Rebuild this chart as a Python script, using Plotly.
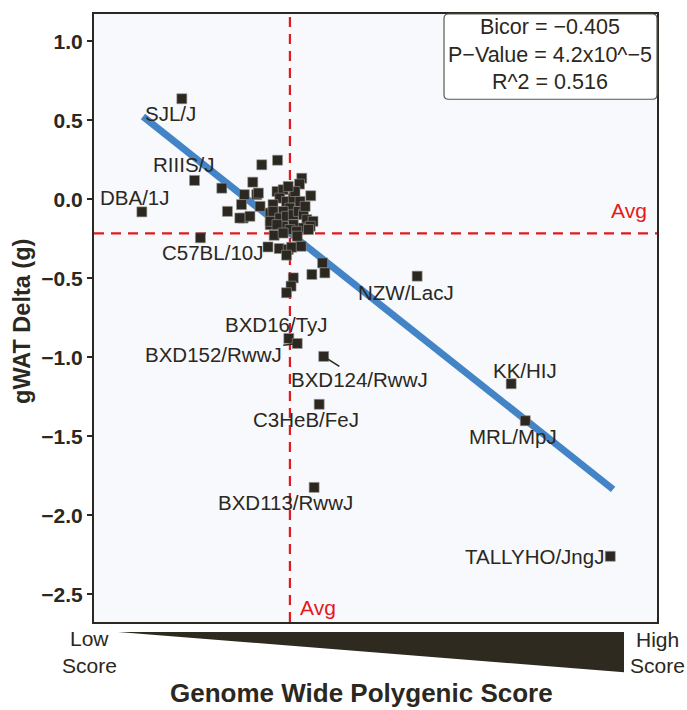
import plotly.graph_objects as go

# ---------------- data ----------------
labeled_names = ["SJL/J", "RIIIS/J", "DBA/1J", "C57BL/10J", "NZW/LacJ", "BXD16/TyJ",
                 "BXD152/RwwJ", "BXD124/RwwJ", "C3HeB/FeJ", "BXD113/RwwJ", "KK/HIJ",
                 "MRL/MpJ", "TALLYHO/JngJ"]
labeled_score = [15.6, 17.85, 8.5, 18.9, 57.4, 34.6, 36.1, 40.8, 40.0, 39.1, 74.1, 76.6, 91.7]
labeled_gwat = [0.637, 0.12, -0.079, -0.243, -0.486, -0.88, -0.912, -0.994, -1.297, -1.823,
                -1.167, -1.401, -2.259]

other_score = [22.7, 23.7, 26.7, 28.2, 29.8, 32.6, 26.2, 26.5, 27.7, 28.9, 29.5, 31.3, 32.0,
               30.9, 31.3, 36.9, 36.5, 38.5, 29.2, 25.9,
               32.5, 33.6, 33.0, 31.8, 34.2, 35.4, 34.8, 33.6, 31.8, 31.3, 33.0, 34.2, 35.4,
               36.3, 37.2, 37.8, 38.9, 38.4, 36.6, 35.4, 33.6, 32.5, 34.8, 33.6, 36.0, 32.9,
               34.5, 35.1, 34.2, 36.8, 36.1, 38.1, 40.6, 41.0, 38.7, 35.4, 35.0, 34.2,
               35.7, 36.6, 37.5, 34.5]
other_gwat = [0.071, -0.076, 0.030, 0.109, 0.219, 0.248, -0.033, -0.118, -0.107, 0.030, -0.044,
              -0.086, -0.227, -0.301, -0.160, 0.134, 0.097, 0.023, 0.040, -0.118,
              0.050, 0.061, 0.008, -0.033, -0.013, 0.008, -0.055, -0.076, -0.076, -0.139,
              -0.118, -0.107, -0.097, -0.076, -0.097, -0.128, -0.139, -0.170, -0.181, -0.160,
              -0.170, -0.160, -0.191, -0.213, -0.202, -0.311, -0.317, -0.303, -0.353, -0.297,
              -0.233, -0.191, -0.402, -0.465, -0.475, -0.497, -0.549, -0.591,
              0.050, -0.013, -0.044, 0.082]

fit_slope = -0.02826
fit_intercept = 0.770
fit_score_range = [8.7, 92.2]

avg_score = 34.8
avg_gwat = -0.215

stats_lines = ["Bicor = \u22120.405", "P\u2212Value = 4.2x10^\u22125", "R^2 = 0.516"]

y_ticks = [1.0, 0.5, 0.0, -0.5, -1.0, -1.5, -2.0, -2.5]
y_ticktext = [("\u2212" if v < 0 else "") + f"{abs(v):.1f}" for v in y_ticks]

# ---------------- styles / positions ----------------
INK = "#2b2721"
RED = "#e3191c"
BLUE = "#4384c7"
FONT = "Liberation Sans, Arial, sans-serif"
LBL = 20.5

# label offsets in pixels: (xshift, yshift) or arrow (ax, ay)
label_pos = {
    "SJL/J": (-11, -15), "RIIIS/J": (-11, 16), "DBA/1J": (-7, 14), "C57BL/10J": (12, -15),
    "NZW/LacJ": (-11, -16), "BXD16/TyJ": (-12, 14), "C3HeB/FeJ": (-13, -15),
    "BXD113/RwwJ": (-29, -15), "KK/HIJ": (14, 13), "MRL/MpJ": (-12, -16),
    "TALLYHO/JngJ": (-76, 0),
}
arrow_pos = {"BXD152/RwwJ": (-84, 11), "BXD124/RwwJ": (36, 23)}

all_x = labeled_score + other_score
all_y = labeled_gwat + other_gwat

fig = go.Figure()

fit_y = [fit_intercept + fit_slope * s for s in fit_score_range]
fig.add_trace(go.Scatter(x=fit_score_range, y=fit_y, mode="lines",
                         line=dict(color=BLUE, width=7), hoverinfo="skip", showlegend=False))
fig.add_trace(go.Scatter(x=all_x, y=all_y, mode="markers",
                         marker=dict(symbol="square", size=10, color=INK,
                                     line=dict(color="#9a958e", width=0.6)),
                         showlegend=False))

# average lines
fig.add_shape(type="line", xref="x", yref="paper", x0=avg_score, x1=avg_score, y0=0, y1=1,
              line=dict(color=RED, width=2.2, dash="10px,7px"), layer="below")
fig.add_shape(type="line", xref="paper", yref="y", x0=0, x1=1, y0=avg_gwat, y1=avg_gwat,
              line=dict(color=RED, width=2.2, dash="10px,7px"), layer="below")

C = dict(xanchor="center", yanchor="middle")
ann = []
ann.append(dict(x=0.951, xref="paper", y=avg_gwat, yref="y", text="Avg", showarrow=False,
                yshift=23, font=dict(color=RED, size=21, family=FONT), **C))
ann.append(dict(x=avg_score, xref="x", y=0.0246, yref="paper", text="Avg", showarrow=False,
                xshift=28, font=dict(color=RED, size=21, family=FONT), **C))

for n, sx, gy in zip(labeled_names, labeled_score, labeled_gwat):
    if n in label_pos:
        dx, dy = label_pos[n]
        ann.append(dict(x=sx, y=gy, xref="x", yref="y", text=n, showarrow=False,
                        xshift=dx, yshift=dy, font=dict(color=INK, size=LBL, family=FONT), **C))
    else:
        ax, ay = arrow_pos[n]
        ann.append(dict(x=sx, y=gy, xref="x", yref="y", text=n, showarrow=True,
                        ax=ax, ay=ay, arrowhead=0, arrowwidth=1.6, arrowcolor=INK,
                        standoff=4, font=dict(color=INK, size=LBL, family=FONT)))

# stats box
x0, x1, y0, y1 = 0.6217, 1.0, 0.8598, 1.0
dx, dy = 0.008, 0.0075
box_path = (f"M {x0+dx},{y0} L {x1-dx},{y0} Q {x1},{y0} {x1},{y0+dy} L {x1},{y1-dy} "
            f"Q {x1},{y1} {x1-dx},{y1} L {x0+dx},{y1} Q {x0},{y1} {x0},{y1-dy} "
            f"L {x0},{y0+dy} Q {x0},{y0} {x0+dx},{y0} Z")
fig.add_shape(type="path", xref="paper", yref="paper", path=box_path,
              fillcolor="white", line=dict(color="#5a5650", width=1.2), layer="above")
for txt, yy in zip(stats_lines, [0.9787, 0.9328, 0.8885]):
    ann.append(dict(x=0.8108, y=yy, xref="paper", yref="paper", text=txt, showarrow=False,
                    font=dict(color=INK, size=21.5, family=FONT), **C))

# wedge under x axis
fig.add_shape(type="path", xref="paper", yref="paper",
              path="M 0.0426,-0.0164 L 0.9414,-0.0164 L 0.9414,-0.0828 Z",
              fillcolor="#2e2a20", line=dict(width=0))
for txt, xx, yy in [("Low", -0.0085, -0.0279), ("Score", -0.0085, -0.0721),
                    ("High", 1.0, -0.0295), ("Score", 1.0, -0.0721)]:
    ann.append(dict(x=xx, y=yy, xref="paper", yref="paper", text=txt, showarrow=False,
                    font=dict(color=INK, size=21, family=FONT), **C))

ann.append(dict(x=0.476, y=-0.1164, xref="paper", yref="paper",
                text="<b>Genome Wide Polygenic Score</b>", showarrow=False,
                font=dict(color=INK, size=26, family=FONT), **C))
ann.append(dict(x=-0.128, y=0.495, xref="paper", yref="paper", textangle=-90,
                text="<b>gWAT Delta (g)</b>", showarrow=False,
                font=dict(color=INK, size=23.5, family=FONT), **C))

fig.update_layout(
    width=687, height=710,
    margin=dict(l=94, r=30, t=12, b=88),
    paper_bgcolor="white", plot_bgcolor="#f7f9fd",
    annotations=ann,
    font=dict(family=FONT, color=INK),
)
fig.update_xaxes(range=[0, 100], showgrid=False, zeroline=False, showticklabels=False,
                 ticks="", showline=True, linecolor=INK, linewidth=2, mirror=True)
fig.update_yaxes(range=[-2.675, 1.1735], showgrid=False, zeroline=False,
                 tickvals=y_ticks, ticktext=y_ticktext, ticks="outside", ticklen=5,
                 tickwidth=2, tickcolor=INK,
                 tickfont=dict(size=21, family=FONT, color=INK, weight="bold"),
                 showline=True, linecolor=INK, linewidth=2, mirror=True)

fig.write_html("out.html")
